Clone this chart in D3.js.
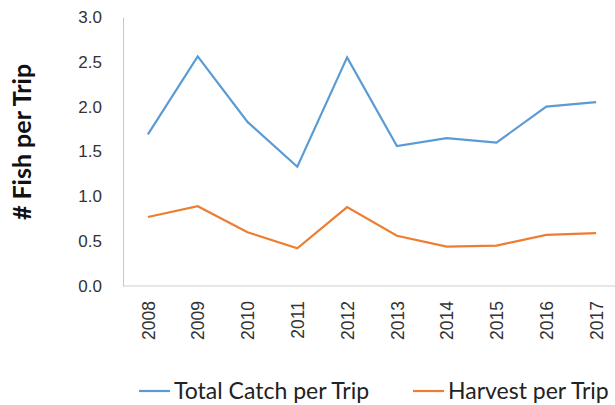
<!DOCTYPE html>
<html>
<head>
<meta charset="utf-8">
<script src="https://cdn.jsdelivr.net/npm/d3@7"></script>
<style>
  body { margin: 0; background: #fff; }
  svg { display: block; font-family: Lato, "Open Sans", sans-serif; }
</style>
</head>
<body>
<div id="chart"></div>
<script>
// data
var years = ["2008", "2009", "2010", "2011", "2012", "2013", "2014", "2015", "2016", "2017"];
var totalCatch = [1.69, 2.56, 1.83, 1.33, 2.55, 1.56, 1.65, 1.60, 2.00, 2.05];
var harvest = [0.77, 0.89, 0.60, 0.42, 0.88, 0.56, 0.44, 0.45, 0.57, 0.59];
var yTicks = [0, 0.5, 1, 1.5, 2, 2.5, 3];
var seriesNames = ["Total Catch per Trip", "Harvest per Trip"];
var seriesColors = ["#5B9BD5", "#ED7D31"];

var width = 615, height = 405;
var plotLeft = 123, plotRight = 621, plotTop = 17, plotBottom = 286;

var svg = d3.select("#chart")
  .append("svg")
  .attr("width", width)
  .attr("height", height);

var x = d3.scalePoint()
  .domain(years)
  .range([plotLeft, plotRight])
  .padding(0.5);

var y = d3.scaleLinear()
  .domain([0, 3])
  .range([plotBottom, plotTop]);

// y axis
var yAxis = svg.append("g")
  .attr("transform", "translate(" + plotLeft + ",0)")
  .call(d3.axisLeft(y).tickValues(yTicks).tickFormat(d3.format(".1f")).tickSize(0).tickSizeOuter(0).tickPadding(21));
yAxis.select(".domain").attr("stroke", "#c8c8c8");
yAxis.selectAll("text")
  .style("font-size", "17px")
  .attr("fill", "#333");

// x axis
var xAxis = svg.append("g")
  .attr("transform", "translate(0," + plotBottom + ")")
  .call(d3.axisBottom(x).tickSize(0).tickSizeOuter(0));
xAxis.select(".domain").attr("stroke", "#d0d0d0").attr("d", "M" + plotLeft + ",0H" + plotRight);
xAxis.selectAll("text")
  .style("font-size", "17.5px")
  .attr("fill", "#333")
  .style("text-anchor", "end")
  .attr("transform", "rotate(-90)")
  .attr("x", -15)
  .attr("y", 0)
  .attr("dy", "0.35em");

// y title
svg.append("text")
  .attr("transform", "translate(31,142) rotate(-90)")
  .attr("text-anchor", "middle")
  .style("font-size", "25px")
  .style("font-weight", "bold")
  .attr("fill", "#111")
  .text("# Fish per Trip");

var line = d3.line()
  .x(function(d, i) { return x(years[i]); })
  .y(function(d) { return y(d); });

[totalCatch, harvest].forEach(function(vals, i) {
  svg.append("path")
    .attr("d", line(vals))
    .attr("fill", "none")
    .attr("stroke", seriesColors[i])
    .attr("stroke-width", 2.2);
});

// legend
var legendX = [139, 413];
var legend = svg.selectAll(".legend")
  .data(seriesNames)
  .enter()
  .append("g")
  .attr("class", "legend")
  .attr("transform", function(d, i) { return "translate(" + legendX[i] + ",391)"; });

legend.append("line")
  .attr("x1", 0).attr("x2", 31)
  .attr("stroke", function(d, i) { return seriesColors[i]; })
  .attr("stroke-width", 2.2);

legend.append("text")
  .attr("x", 35)
  .attr("dy", "0.35em")
  .style("font-size", "23px")
  .attr("fill", "#222")
  .text(function(d) { return d; });
</script>
</body>
</html>
